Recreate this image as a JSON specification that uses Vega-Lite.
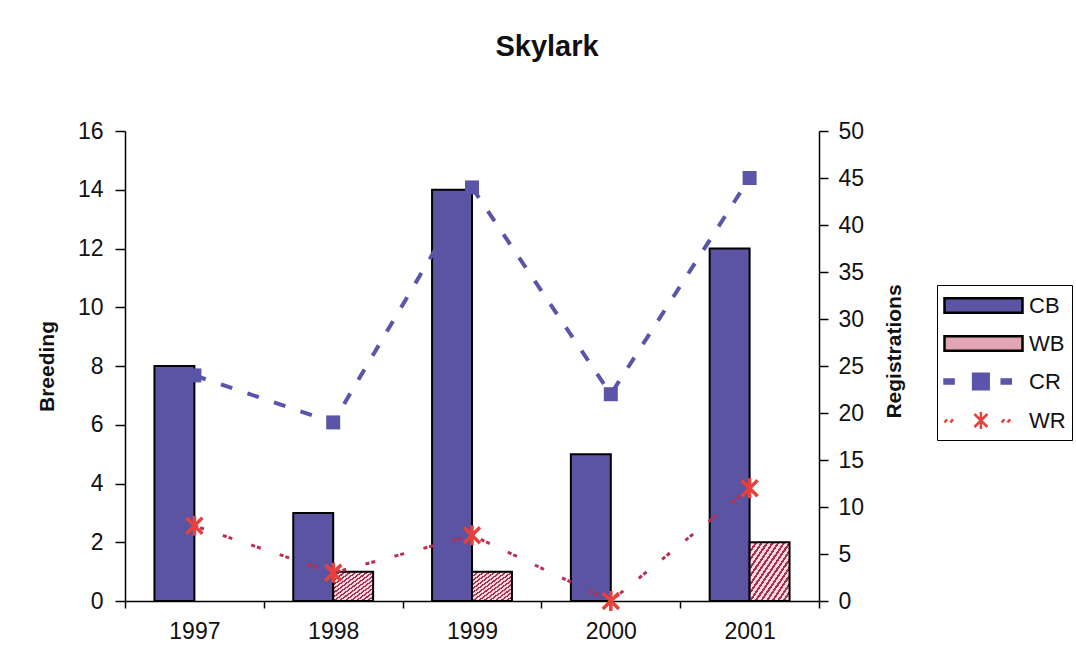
{
  "$schema": "https://vega.github.io/schema/vega-lite/v6.json",
  "autosize": "none",
  "width": 694,
  "height": 470,
  "padding": {"top": 131, "left": 125, "right": 257, "bottom": 71},
  "background": "#ffffff",
  "title": {
    "text": "Skylark",
    "font": "Liberation Sans",
    "fontSize": 29,
    "fontWeight": "bold",
    "color": "#111111",
    "anchor": "middle",
    "dx": 75,
    "offset": 58
  },
  "datasets": {
    "breeding": [
      {"year": "1997", "series": "CB", "value": 8},
      {"year": "1997", "series": "WB", "value": 0},
      {"year": "1998", "series": "CB", "value": 3},
      {"year": "1998", "series": "WB", "value": 1},
      {"year": "1999", "series": "CB", "value": 14},
      {"year": "1999", "series": "WB", "value": 1},
      {"year": "2000", "series": "CB", "value": 5},
      {"year": "2000", "series": "WB", "value": 0},
      {"year": "2001", "series": "CB", "value": 12},
      {"year": "2001", "series": "WB", "value": 2}
    ],
    "registrations": [
      {"year": "1997", "series": "CR", "value": 24},
      {"year": "1998", "series": "CR", "value": 19},
      {"year": "1999", "series": "CR", "value": 44},
      {"year": "2000", "series": "CR", "value": 22},
      {"year": "2001", "series": "CR", "value": 45},
      {"year": "1997", "series": "WR", "value": 8},
      {"year": "1998", "series": "WR", "value": 3},
      {"year": "1999", "series": "WR", "value": 7},
      {"year": "2000", "series": "WR", "value": 0},
      {"year": "2001", "series": "WR", "value": 12}
    ]
  },
  "encoding": {
    "x": {
      "field": "year",
      "type": "nominal",
      "sort": ["1997", "1998", "1999", "2000", "2001"],
      "scale": {"paddingInner": 0, "paddingOuter": 0},
      "axis": {
        "title": null,
        "labelAngle": 0,
        "tickBand": "extent",
        "tickSize": 7,
        "labelPadding": 12
      }
    }
  },
  "layer": [
    {
      "data": {"name": "breeding"},
      "mark": {"type": "bar", "stroke": "#000000", "strokeWidth": 2},
      "encoding": {
        "xOffset": {
          "field": "series",
          "type": "nominal",
          "sort": ["CB", "WB"],
          "scale": {"paddingInner": 0, "paddingOuter": 0.7375}
        },
        "y": {
          "field": "value",
          "type": "quantitative",
          "scale": {"domain": [0, 16], "nice": false},
          "axis": {
            "title": "Breeding",
            "values": [0, 2, 4, 6, 8, 10, 12, 14, 16],
            "tickSize": 10,
            "labelPadding": 12,
            "titlePadding": 20
          }
        },
        "strokeOpacity": {
          "condition": {"test": "datum.value === 0", "value": 0},
          "value": 1
        },
        "fill": {
          "condition": {
            "test": "datum.series === 'WB'",
            "value": {
              "gradient": "linear",
              "x1": 0, "y1": 0, "x2": 1, "y2": 1,
              "stops": [
                {"offset": 0, "color": "#a8304f"}, {"offset": 0.03, "color": "#a8304f"},
                {"offset": 0.03, "color": "#f6d8e0"}, {"offset": 0.07, "color": "#f6d8e0"},
                {"offset": 0.07, "color": "#a8304f"}, {"offset": 0.1, "color": "#a8304f"},
                {"offset": 0.1, "color": "#f6d8e0"}, {"offset": 0.14, "color": "#f6d8e0"},
                {"offset": 0.14, "color": "#a8304f"}, {"offset": 0.17, "color": "#a8304f"},
                {"offset": 0.17, "color": "#f6d8e0"}, {"offset": 0.21, "color": "#f6d8e0"},
                {"offset": 0.21, "color": "#a8304f"}, {"offset": 0.24, "color": "#a8304f"},
                {"offset": 0.24, "color": "#f6d8e0"}, {"offset": 0.28, "color": "#f6d8e0"},
                {"offset": 0.28, "color": "#a8304f"}, {"offset": 0.31, "color": "#a8304f"},
                {"offset": 0.31, "color": "#f6d8e0"}, {"offset": 0.35, "color": "#f6d8e0"},
                {"offset": 0.35, "color": "#a8304f"}, {"offset": 0.38, "color": "#a8304f"},
                {"offset": 0.38, "color": "#f6d8e0"}, {"offset": 0.42, "color": "#f6d8e0"},
                {"offset": 0.42, "color": "#a8304f"}, {"offset": 0.45, "color": "#a8304f"},
                {"offset": 0.45, "color": "#f6d8e0"}, {"offset": 0.49, "color": "#f6d8e0"},
                {"offset": 0.49, "color": "#a8304f"}, {"offset": 0.52, "color": "#a8304f"},
                {"offset": 0.52, "color": "#f6d8e0"}, {"offset": 0.56, "color": "#f6d8e0"},
                {"offset": 0.56, "color": "#a8304f"}, {"offset": 0.59, "color": "#a8304f"},
                {"offset": 0.59, "color": "#f6d8e0"}, {"offset": 0.63, "color": "#f6d8e0"},
                {"offset": 0.63, "color": "#a8304f"}, {"offset": 0.66, "color": "#a8304f"},
                {"offset": 0.66, "color": "#f6d8e0"}, {"offset": 0.7, "color": "#f6d8e0"},
                {"offset": 0.7, "color": "#a8304f"}, {"offset": 0.73, "color": "#a8304f"},
                {"offset": 0.73, "color": "#f6d8e0"}, {"offset": 0.77, "color": "#f6d8e0"},
                {"offset": 0.77, "color": "#a8304f"}, {"offset": 0.8, "color": "#a8304f"},
                {"offset": 0.8, "color": "#f6d8e0"}, {"offset": 0.84, "color": "#f6d8e0"},
                {"offset": 0.84, "color": "#a8304f"}, {"offset": 0.87, "color": "#a8304f"},
                {"offset": 0.87, "color": "#f6d8e0"}, {"offset": 0.91, "color": "#f6d8e0"},
                {"offset": 0.91, "color": "#a8304f"}, {"offset": 0.94, "color": "#a8304f"},
                {"offset": 0.94, "color": "#f6d8e0"}, {"offset": 1, "color": "#f6d8e0"}
              ]
            }
          },
          "value": "#5a54a3"
        }
      }
    },
    {
      "data": {"name": "registrations"},
      "encoding": {
        "y": {
          "field": "value",
          "type": "quantitative",
          "scale": {"domain": [0, 50], "nice": false},
          "axis": {
            "title": "Registrations",
            "orient": "right",
            "values": [0, 5, 10, 15, 20, 25, 30, 35, 40, 45, 50],
            "tickSize": 9,
            "labelPadding": 10,
            "titleAngle": 270,
            "titlePadding": 41,
            "titleY": 220
          }
        }
      },
      "layer": [
        {
          "transform": [{"filter": "datum.series === 'CR'"}],
          "mark": {"type": "line", "color": "#5a55a8", "strokeWidth": 4, "strokeDash": [12, 16]}
        },
        {
          "transform": [{"filter": "datum.series === 'WR'"}],
          "mark": {"type": "line", "color": "#b8304f", "strokeWidth": 3, "strokeDash": [4, 2, 4, 20]}
        },
        {
          "transform": [{"filter": "datum.series === 'CR'"}],
          "mark": {"type": "point", "shape": "square", "filled": true, "size": 196, "color": "#5a55a8", "opacity": 1}
        },
        {
          "transform": [{"filter": "datum.series === 'WR'"}],
          "mark": {
            "type": "point",
            "shape": "M-1,-1L1,1M-1,1L1,-1M0,-1.25L0,1.25",
            "filled": false,
            "size": 256,
            "color": "#e8403a",
            "strokeWidth": 3.5,
            "opacity": 1
          }
        },
        {
          "transform": [{"filter": "false"}],
          "mark": {"type": "point", "opacity": 1},
          "encoding": {
            "fill": {
              "field": "series",
              "type": "nominal",
              "scale": {
                "domain": ["CB", "WB", "CR", "WR"],
                "range": ["#5a54a3", "#e3a4b6", "#5a55a8", "#e8403a"]
              },
              "legend": {
                "orient": "none",
                "legendX": 812,
                "legendY": 154,
                "title": null,
                "strokeColor": "#000000",
                "fillColor": "#ffffff",
                "padding": 6,
                "symbolSize": 676,
                "symbolStrokeWidth": 2.5,
                "rowPadding": 11,
                "labelFont": "Liberation Sans",
                "labelFontSize": 22,
                "labelColor": "#111111",
                "labelOffset": 57
              }
            },
            "stroke": {
              "field": "series",
              "type": "nominal",
              "scale": {
                "domain": ["CB", "WB", "CR", "WR"],
                "range": ["#000000", "#000000", "#5a55a8", "#e8403a"]
              }
            },
            "shape": {
              "field": "series",
              "type": "nominal",
              "scale": {
                "domain": ["CB", "WB", "CR", "WR"],
                "range": [
                  "M-1,-0.55H5V0.55H-1Z",
                  "M-1,-0.55H5V0.55H-1Z",
                  "M-1,-0.15H-0.3V0.15H-1Z M1.2,-0.6H2.4V0.6H1.2Z M3.4,-0.15H4.1V0.15H3.4Z",
                  "M-1,0.15L-0.8,-0.1M-0.55,0.15L-0.35,-0.1 M1.3,-0.5L2.3,0.5M1.3,0.5L2.3,-0.5M1.8,-0.65L1.8,0.65 M3.4,0.15L3.6,-0.1M3.85,0.15L4.05,-0.1"
                ]
              }
            }
          }
        }
      ]
    }
  ],
  "resolve": {"scale": {"y": "independent"}},
  "config": {
    "view": {"stroke": null},
    "font": "Liberation Sans",
    "axis": {
      "grid": false,
      "domainColor": "#000000",
      "domainWidth": 1.5,
      "tickColor": "#000000",
      "tickWidth": 1.5,
      "labelFont": "Liberation Sans",
      "labelFontSize": 23,
      "labelColor": "#111111",
      "titleFont": "Liberation Sans",
      "titleFontSize": 21,
      "titleFontWeight": "bold",
      "titleColor": "#111111"
    }
  }
}
